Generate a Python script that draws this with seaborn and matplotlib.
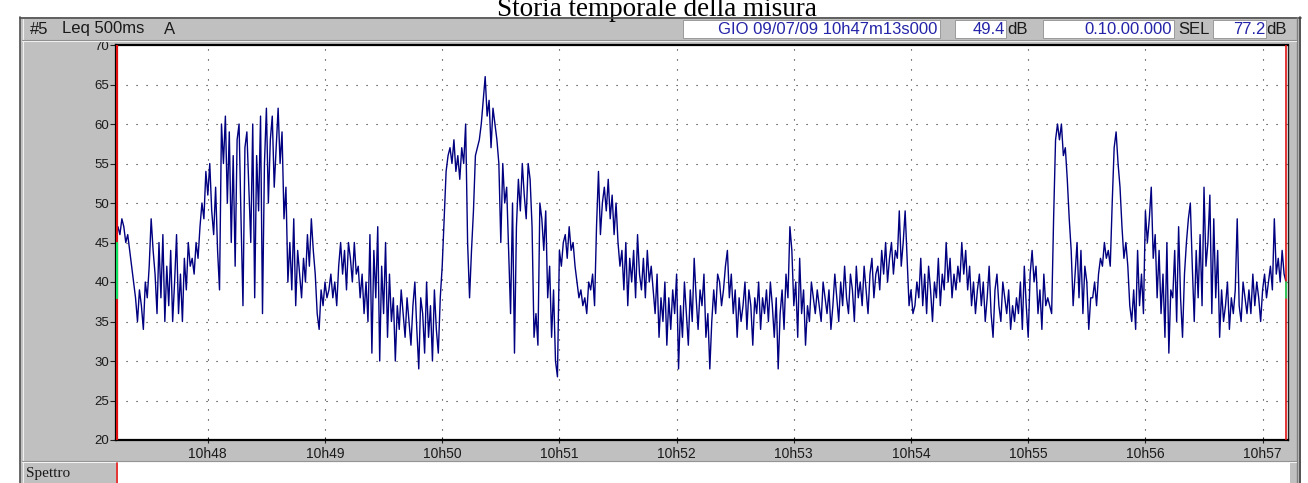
import numpy as np
import pandas as pd
import matplotlib
matplotlib.use("Agg")
import matplotlib.pyplot as plt
from matplotlib.patches import Rectangle
from matplotlib.lines import Line2D
import seaborn as sns

# ---------------- data (Leq 500ms A, dB) read per second ----------------
leq_m0 = [46, 47, 46, 48, 47, 45, 46, 44, 42, 40, 38, 35, 39, 37, 34, 40, 38, 42, 48, 44,
          41, 36, 45, 38, 46, 35, 42, 37, 44, 35, 40, 46, 36, 41, 35, 43, 39, 45, 42, 43,
          41, 45, 43, 47, 50, 48, 54, 51, 55, 49, 46, 52, 44, 39, 60, 55, 61, 50, 59, 45]
leq_m1 = [56, 42, 58, 60, 48, 37, 57, 59, 52, 45, 60, 38, 56, 49, 61, 36, 55, 62, 50, 58,
          61, 52, 57, 62, 55, 59, 48, 52, 40, 45, 39, 48, 37, 44, 41, 38, 43, 40, 46, 42,
          48, 44, 41, 36, 34, 39, 37, 40, 38, 39, 41, 38, 40, 37, 42, 45, 41, 44, 39, 45]
leq_m2 = [43, 40, 45, 41, 42, 38, 41, 36, 40, 35, 46, 31, 44, 38, 47, 30, 42, 36, 45, 33,
          41, 35, 38, 30, 37, 34, 39, 36, 33, 38, 35, 32, 37, 40, 34, 29, 38, 36, 31, 40,
          33, 37, 30, 39, 34, 31, 38, 42, 48, 54, 56, 57, 55, 58, 54, 56, 53, 57, 55, 60]
leq_m3 = [45, 38, 44, 49, 56, 57, 58, 60, 63, 66, 61, 63, 57, 62, 60, 58, 55, 45, 55, 50,
          52, 44, 36, 50, 31, 47, 53, 49, 55, 51, 48, 55, 53, 47, 33, 36, 32, 50, 48, 44,
          49, 38, 42, 33, 39, 30, 28, 44, 42, 45, 46, 43, 47, 44, 45, 42, 40, 38, 39, 37]
leq_m4 = [38, 36, 40, 39, 41, 37, 47, 54, 46, 50, 52, 49, 53, 48, 51, 46, 50, 45, 42, 44,
          39, 45, 37, 43, 40, 44, 38, 46, 41, 39, 43, 38, 44, 40, 42, 39, 36, 41, 33, 38,
          35, 40, 32, 38, 34, 39, 36, 41, 29, 37, 33, 40, 36, 32, 39, 35, 43, 38, 34, 39]
leq_m5 = [37, 41, 33, 36, 29, 35, 39, 36, 41, 40, 37, 39, 42, 44, 38, 41, 36, 39, 33, 38,
          35, 37, 40, 34, 39, 37, 32, 38, 36, 40, 34, 38, 36, 39, 35, 40, 37, 33, 38, 29,
          36, 39, 34, 41, 38, 47, 44, 37, 40, 33, 43, 36, 39, 32, 37, 35, 40, 38, 36, 39]
leq_m6 = [37, 35, 40, 38, 36, 39, 34, 37, 41, 38, 35, 40, 37, 42, 38, 36, 41, 39, 35, 42,
          38, 40, 37, 42, 39, 36, 41, 43, 38, 41, 42, 39, 44, 41, 45, 40, 43, 45, 41, 44,
          43, 49, 42, 45, 49, 43, 37, 39, 36, 37, 40, 38, 43, 37, 41, 36, 42, 39, 35, 40]
leq_m7 = [38, 43, 37, 41, 39, 45, 40, 43, 38, 41, 39, 42, 40, 45, 41, 44, 39, 42, 37, 40,
          36, 39, 41, 37, 40, 35, 38, 42, 36, 33, 39, 41, 37, 35, 40, 38, 36, 39, 34, 37,
          35, 38, 36, 40, 34, 42, 37, 33, 41, 44, 40, 42, 36, 39, 34, 41, 37, 38, 37, 36]
leq_m8 = [48, 58, 60, 58, 60, 56, 57, 53, 48, 44, 37, 41, 45, 38, 44, 36, 42, 40, 34, 38,
          38, 40, 37, 41, 43, 42, 45, 43, 44, 42, 50, 57, 59, 55, 52, 47, 43, 45, 42, 37,
          35, 39, 34, 44, 37, 41, 36, 49, 45, 48, 52, 43, 46, 38, 44, 36, 41, 33, 45, 31]
leq_m9 = [39, 38, 44, 35, 47, 38, 33, 41, 45, 48, 50, 42, 35, 44, 38, 46, 37, 52, 42, 45,
          51, 36, 48, 38, 44, 33, 39, 35, 37, 40, 34, 38, 36, 39, 48, 37, 35, 40, 38, 36,
          39, 36, 41, 37, 40, 38, 35, 39, 41, 38, 40, 42, 39, 48, 41, 43, 40, 44, 41, 40]

tick_seconds = [47, 107, 167, 227, 287, 347, 407, 467, 527, 587]
tick_labels = ["10h48", "10h49", "10h50", "10h51", "10h52",
               "10h53", "10h54", "10h55", "10h56", "10h57"]
y_ticks = [20, 25, 30, 35, 40, 45, 50, 55, 60, 65, 70]

title = "Storia temporale della misura"
header_id = "#5"
header_kind = "Leq 500ms"
header_weight = "A"
header_date = "GIO 09/07/09 10h47m13s000"
header_leq = "49.4"
header_dur = "0.10.00.000"
header_sel = "77.2"

leq = leq_m0 + leq_m1 + leq_m2 + leq_m3 + leq_m4 + leq_m5 + leq_m6 + leq_m7 + leq_m8 + leq_m9
df = pd.DataFrame({"t": np.arange(len(leq)), "leq": leq})

# ---------------- figure ----------------
sns.set_theme(style="white")
plt.rcParams["font.family"] = ["Liberation Sans", "DejaVu Sans"]

W, H = 1308, 483
fig = plt.figure(figsize=(W / 100, H / 100), dpi=100)
fig.patch.set_facecolor("white")

GRAY = "#c0c0c0"
TXT = "#1a1a1a"
BLUE = "#2424a8"
HFS = 12


def rect(x0, y0, x1, y1, fc, ec="none", lw=0, z=0):
    r = Rectangle((x0 / W, 1 - y1 / H), (x1 - x0) / W, (y1 - y0) / H,
                  transform=fig.transFigure, facecolor=fc, edgecolor=ec,
                  linewidth=lw, zorder=z)
    fig.add_artist(r)


def hline(x0, x1, y, c, lw=1.0, z=1):
    fig.add_artist(Line2D([x0 / W, x1 / W], [1 - y / H, 1 - y / H],
                          transform=fig.transFigure, color=c, linewidth=lw, zorder=z))


def vline(x, y0, y1, c, lw=1.0, z=1):
    fig.add_artist(Line2D([x / W, x / W], [1 - y0 / H, 1 - y1 / H],
                          transform=fig.transFigure, color=c, linewidth=lw, zorder=z))


def ftext(x, y, s, **kw):
    fig.text(x / W, 1 - y / H, s, **kw)


# window panel
rect(20, 17, 1301, 483, GRAY, z=0)
vline(20.5, 17, 483, "#505050", 1.2)
hline(20, 1301, 17.5, "#505050", 1.2)
vline(1297, 17, 483, "#808080", 1.0)
vline(1300, 17, 483, "#404040", 1.2)
vline(22.5, 19, 483, "#f0f0f0", 0.8)
hline(22, 1296, 40.5, "#f4f4f4", 0.8)
hline(22, 1296, 39.5, "#909090", 0.8)

# title (top part clipped by the image edge, as in the reference)
ftext(657, 16, title, ha="center", va="baseline", fontsize=19.5,
      family=["Liberation Serif", "DejaVu Serif"], color="black", zorder=0.5)

# header bar texts / boxes
ftext(30, 29, header_id, ha="left", va="center", fontsize=HFS, color=TXT)
ftext(62, 29, header_kind, ha="left", va="center", fontsize=HFS, color=TXT)
ftext(164, 29, header_weight, ha="left", va="center", fontsize=HFS, color=TXT)
rect(683, 20, 940, 38, "white", ec="#909090", lw=0.6, z=1)
ftext(937, 29, header_date, ha="right", va="center", fontsize=HFS, color=BLUE)
rect(955, 20, 1006, 38, "white", ec="#909090", lw=0.6, z=1)
ftext(1005, 29, header_leq, ha="right", va="center", fontsize=HFS, color=BLUE)
ftext(1007, 29, "dB", ha="left", va="center", fontsize=HFS, color=TXT)
rect(1043, 20, 1174, 38, "white", ec="#909090", lw=0.6, z=1)
ftext(1172, 29, header_dur, ha="right", va="center", fontsize=HFS, color=BLUE)
ftext(1178, 29, "SEL", ha="left", va="center", fontsize=HFS, color=TXT)
rect(1213, 20, 1266, 38, "white", ec="#909090", lw=0.6, z=1)
ftext(1265, 29, header_sel, ha="right", va="center", fontsize=HFS, color=BLUE)
ftext(1266, 29, "dB", ha="left", va="center", fontsize=HFS, color=TXT)

# Spettro row
hline(22, 1296, 460.5, "#909090", 0.8)
hline(22, 1296, 461.5, "#f4f4f4", 0.8)
rect(116, 463, 1290, 484, "white", z=1)
vline(116.5, 463, 483, "#e01010", 1.2, z=2)
ftext(26, 474, "Spettro", ha="left", va="center", fontsize=11,
      family=["Liberation Serif", "DejaVu Serif"], color=TXT)

# ---------------- main axes ----------------
ax = fig.add_axes([116 / W, 1 - 440 / H, (1288 - 116) / W, (440 - 45) / H])
ax.set_facecolor("white")
sns.lineplot(data=df, x="t", y="leq", ax=ax, color="#000080", linewidth=1.0,
             estimator=None, sort=False)
ax.set_xlim(0, len(leq))
ax.set_ylim(20, 70)
ax.set_xlabel("")
ax.set_ylabel("")

ax.set_yticks(y_ticks)
ax.set_yticklabels([str(v) for v in y_ticks], fontsize=9.5, color=TXT)
ax.set_xticks(tick_seconds)
ax.set_xticklabels(tick_labels, fontsize=10, color=TXT)
ax.tick_params(axis="y", direction="out", length=4, width=0.8, color="#202020", pad=1, left=True)
ax.tick_params(axis="x", direction="inout", length=5, width=0.8, color="#202020", pad=2.5, bottom=True)

for v in y_ticks[1:-1]:
    ax.axhline(v, color="#222222", linewidth=0.8, linestyle=(0, (1, 8)), zorder=0.5)
for v in tick_seconds:
    ax.axvline(v, color="#222222", linewidth=0.8, linestyle=(0, (1, 8)), zorder=0.5)

for side in ["left", "bottom", "top"]:
    ax.spines[side].set_color("black")
    ax.spines[side].set_linewidth(1.6)
ax.spines["right"].set_color("#202020")
ax.spines["right"].set_linewidth(1.0)

# cursors
ax.axvline(0.6, color="#e01010", linewidth=1.6, zorder=3)
ax.plot([0.6, 0.6], [38, 45], color="#10e060", linewidth=1.6, zorder=4)
ax.axvline(len(leq) - 0.8, color="#e01010", linewidth=1.2, zorder=3)
ax.plot([len(leq) - 0.8] * 2, [38, 40], color="#10e060", linewidth=1.2, zorder=4)

fig.savefig("out.png", dpi=100, facecolor="white")
